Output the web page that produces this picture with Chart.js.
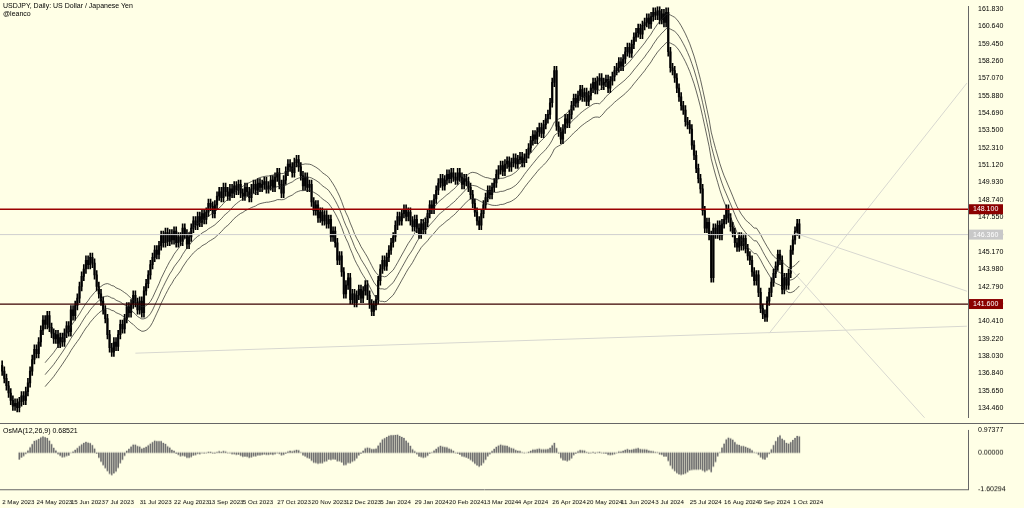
<!DOCTYPE html>
<html>
<head>
<meta charset="utf-8">
<script src="https://cdn.jsdelivr.net/npm/chart.js@4.4.1/dist/chart.umd.min.js"></script>
<style>
  html, body { margin: 0; padding: 0; background: #ffffe6; }
  #wrap { position: relative; width: 1024px; height: 508px; }
  #main { position: absolute; left: 0; top: 0; }
  #osc { position: absolute; left: 0; top: 423px; border-top: 1px solid #666; }
  .ttl { position: absolute; left: 3px; font: 7px "Liberation Sans", sans-serif; color: #000; }
</style>
</head>
<body>
<div id="wrap">
  <canvas id="main" width="1024" height="424"></canvas>
  <canvas id="osc" width="1024" height="84"></canvas>
  <div class="ttl" style="top:2px">USDJPY, Daily:  US Dollar / Japanese Yen</div>
  <div class="ttl" style="top:10px">@leanco</div>
  <div class="ttl" style="top:427px">OsMA(12,26,9) 0.68521</div>
</div>
<script>
// ── DATA ─────────────────────────────────────────────────────────
// daily closes, 2 May 2023 → 3 Oct 2024
const closes = [
  137.0,136.5,136.0,135.5,135.0,134.6,134.8,134.5,134.9,135.3,
  135.0,135.6,136.2,137.0,137.8,138.5,138.2,139.0,139.8,140.5,
  140.2,140.8,140.0,139.6,139.2,139.5,138.9,139.3,139.0,139.6,
  140.1,139.7,141.2,140.8,141.5,142.0,142.8,143.5,144.0,
  144.6,144.3,144.8,144.4,143.6,142.8,142.3,141.8,141.2,140.6,
  139.5,138.6,138.3,139.0,138.7,139.5,140.2,139.9,140.6,141.4,
  141.0,141.6,142.2,141.7,141.2,141.8,141.0,142.5,143.0,143.6,
  144.3,144.8,145.3,145.0,145.6,146.3,145.8,146.5,145.9,146.4,
  146.0,146.6,145.8,146.2,145.9,146.8,146.4,145.7,146.2,
  146.8,147.3,147.0,147.6,147.2,147.8,147.4,147.9,148.5,148.3,
  147.8,148.4,149.0,149.3,148.9,149.6,149.3,149.0,149.5,149.2,
  149.7,149.4,149.8,149.2,149.0,149.6,149.3,148.9,149.5,149.8,
  149.4,149.9,149.6,149.8,150.0,149.5,149.7,150.1,149.6,
  150.3,150.6,149.8,149.2,150.1,150.7,151.2,151.0,150.6,151.3,
  151.5,151.0,150.4,149.7,150.3,149.6,149.8,148.6,148.0,148.4,
  147.5,147.9,147.3,147.7,147.1,147.4,146.2,146.6,145.8,144.6,
  144.9,143.8,142.3,142.9,143.4,141.9,142.3,141.7,142.2,142.6,
  142.0,142.5,142.9,142.2,141.6,141.1,141.5,141.9,143.2,144.0,
  144.6,144.2,144.8,145.3,145.8,146.2,147.0,147.6,147.3,147.8,
  148.1,147.6,147.9,147.3,146.9,147.4,146.8,146.4,147.1,146.7,
  147.2,147.8,148.4,148.1,148.8,149.4,149.9,150.2,149.7,150.1,
  150.5,150.2,150.6,150.3,150.1,150.6,150.3,149.8,150.2,
  150.0,149.6,149.1,148.5,147.9,147.3,147.0,147.8,148.4,
  148.9,149.4,149.1,149.6,149.9,150.5,150.8,151.1,150.7,151.2,
  151.4,151.0,151.3,151.6,151.2,151.5,151.7,151.3,151.6,151.9,
  152.3,152.8,153.2,152.9,153.4,153.7,153.3,153.9,154.3,154.6,
  155.4,156.8,157.6,153.8,153.4,152.9,153.6,154.3,154.0,154.6,
  155.2,155.7,155.4,155.9,156.3,155.8,156.1,155.5,155.9,156.4,
  156.8,156.3,156.9,157.1,156.6,156.8,157.0,156.4,156.9,
  157.2,157.6,157.8,158.2,157.9,158.4,158.9,159.2,158.8,
  159.4,159.9,160.2,160.5,160.1,160.7,160.9,161.2,160.8,
  161.3,161.6,161.4,161.7,161.1,161.5,160.9,161.6,158.9,157.8,
  157.6,157.1,156.4,155.8,155.2,154.9,154.1,153.9,153.6,152.5,
  151.8,150.9,150.2,149.5,148.0,146.8,147.2,146.3,143.4,146.8,
  146.4,147.0,146.3,147.1,147.4,148.1,147.5,146.9,146.5,
  145.8,145.5,146.2,145.6,146.1,145.4,144.9,144.6,143.8,
  143.2,143.6,142.4,141.3,140.9,140.7,141.8,142.4,143.1,
  143.7,144.2,145.0,144.6,142.6,143.4,142.9,143.7,145.3,146.0,
  146.6,147.1,146.4
];
const dateLabels = ['2 May 2023','24 May 2023','15 Jun 2023','7 Jul 2023','31 Jul 2023','22 Aug 2023',
  '13 Sep 2023','5 Oct 2023','27 Oct 2023','20 Nov 2023','12 Dec 2023','5 Jan 2024','29 Jan 2024',
  '20 Feb 2024','13 Mar 2024','4 Apr 2024','26 Apr 2024','20 May 2024','11 Jun 2024','3 Jul 2024',
  '25 Jul 2024','16 Aug 2024','9 Sep 2024','1 Oct 2024'];
const priceTicks = [161.83,160.64,159.45,158.26,157.07,155.88,154.69,153.5,152.31,151.12,149.93,
  148.74,147.55,146.36,145.17,143.98,142.79,141.6,140.41,139.22,138.03,136.84,135.65,134.46];
const levelRed = 148.10;
const levelBlack = 141.60;
const lastPrice = 146.36;
// trend lines as [index, price] pairs
const trendLines = [
  [[62, 138.23], [449, 140.08]],
  [[357, 139.6], [449, 156.75]],
  [[369, 146.46], [449, 142.48]],
  [[367, 144.0], [432, 133.36]]
];
const oscTicks = [0.97377, 0, -1.60294];

// ── DERIVED ──────────────────────────────────────────────────────
const XMIN = -1, XMAX = 449.5, YMIN = 133.80, YMAX = 162.02;
const opens = closes.map((c, i) => i ? closes[i - 1] : c + 0.4);
const wicks = closes.map((c, i) => [Math.min(c, opens[i]) - 0.3, Math.max(c, opens[i]) + 0.3]);

function sma(arr, n) { return arr.map((_, i) => i < n - 1 ? null : arr.slice(i - n + 1, i + 1).reduce((a, b) => a + b, 0) / n); }
function ema(arr, n) { const k = 2 / (n + 1); let e = arr[0]; return arr.map(v => (e = v * k + e * (1 - k))); }
const ma = sma(closes, 21);
const ema12 = ema(closes, 12), ema26 = ema(closes, 26);
const macd = ema12.map((v, i) => v - ema26[i]);
const signal = sma(macd, 9);
const osma = macd.map((v, i) => signal[i] == null ? null : v - signal[i]);

const pts = arr => arr.map((v, i) => ({ x: i, y: v }));
const font = { family: 'Liberation Sans', size: 7 };
const fitRight = s => { s.width = 56; };

// right-axis value boxes
const boxPlugin = {
  id: 'boxes',
  afterDraw(chart) {
    const { ctx, scales: { y } } = chart;
    [[levelRed, '#8b0000', '#fff'], [levelBlack, '#8b0000', '#fff'], [lastPrice, '#c8c8c8', '#fff']].forEach(([v, bg, fg]) => {
      const py = y.getPixelForValue(v);
      ctx.fillStyle = bg;
      ctx.fillRect(y.left + 1, py - 5, 34, 10);
      ctx.fillStyle = fg;
      ctx.font = '7px Liberation Sans';
      ctx.textBaseline = 'middle';
      ctx.fillText(v.toFixed(3), y.left + 5, py);
    });
  }
};

const xBase = { type: 'linear', min: XMIN, max: XMAX, offset: false };

new Chart(document.getElementById('main'), {
  type: 'bar',
  data: {
    datasets: [
      { type: 'line', data: [{ x: XMIN, y: levelRed }, { x: XMAX, y: levelRed }], borderColor: '#9b0000', borderWidth: 1.3, pointRadius: 0 },
      { type: 'line', data: [{ x: XMIN, y: levelBlack }, { x: XMAX, y: levelBlack }], borderColor: '#3a0000', borderWidth: 1.3, pointRadius: 0 },
      { type: 'line', data: [{ x: XMIN, y: lastPrice }, { x: XMAX, y: lastPrice }], borderColor: '#cfcfcf', borderWidth: 1, pointRadius: 0 },
      ...trendLines.map(l => ({ type: 'line', data: l.map(([x, y]) => ({ x, y })), borderColor: '#d8d8d0', borderWidth: 1, pointRadius: 0 })),
      { type: 'line', data: pts(ma.map(v => v && v * 1.006)), borderColor: '#222', borderWidth: 0.7, pointRadius: 0 },
      { type: 'line', data: pts(ma), borderColor: '#222', borderWidth: 0.7, pointRadius: 0 },
      { type: 'line', data: pts(ma.map(v => v && v * 0.994)), borderColor: '#222', borderWidth: 0.7, pointRadius: 0 },
      { data: wicks.map((w, i) => ({ x: i, y: w })), backgroundColor: '#000', barThickness: 1, grouped: false },
      { data: closes.map((c, i) => ({ x: i, y: [opens[i], c] })), backgroundColor: '#222', barThickness: 1.6, grouped: false, minBarLength: 1 }
    ]
  },
  options: {
    animation: false, responsive: false,
    layout: { padding: 0 },
    plugins: { legend: { display: false }, tooltip: { enabled: false } },
    scales: {
      x: { ...xBase, display: false },
      y: {
        position: 'right', min: YMIN, max: YMAX, afterFit: fitRight,
        afterBuildTicks: s => { s.ticks = priceTicks.map(v => ({ value: v })); },
        ticks: { font, color: '#000', padding: 2, callback: v => v.toFixed(3) },
        grid: { display: false, drawTicks: true },
        border: { color: '#666' }
      }
    }
  },
  plugins: [boxPlugin]
});

new Chart(document.getElementById('osc'), {
  type: 'bar',
  data: {
    datasets: [{ data: osma.map((v, i) => ({ x: i, y: v })), backgroundColor: '#707070', barThickness: 1 }]
  },
  options: {
    animation: false, responsive: false,
    layout: { padding: { top: 1 } },
    plugins: { legend: { display: false }, tooltip: { enabled: false } },
    scales: {
      x: {
        ...xBase,
        afterBuildTicks: s => { s.ticks = dateLabels.map((_, k) => ({ value: k * 16 })); },
        ticks: { font: { family: 'Liberation Sans', size: 6.2 }, color: '#000', align: 'start', maxRotation: 0, autoSkip: false, padding: 1,
          callback: (v) => dateLabels[Math.round(v / 16)] },
        grid: { display: false },
        border: { color: '#666' }
      },
      y: {
        position: 'right', min: -1.60294, max: 0.97377, afterFit: fitRight,
        afterBuildTicks: s => { s.ticks = oscTicks.map(v => ({ value: v })); },
        ticks: { font, color: '#000', padding: 2, callback: v => v.toFixed(5) },
        grid: { display: false },
        border: { color: '#666' }
      }
    }
  }
});
</script>
</body>
</html>
